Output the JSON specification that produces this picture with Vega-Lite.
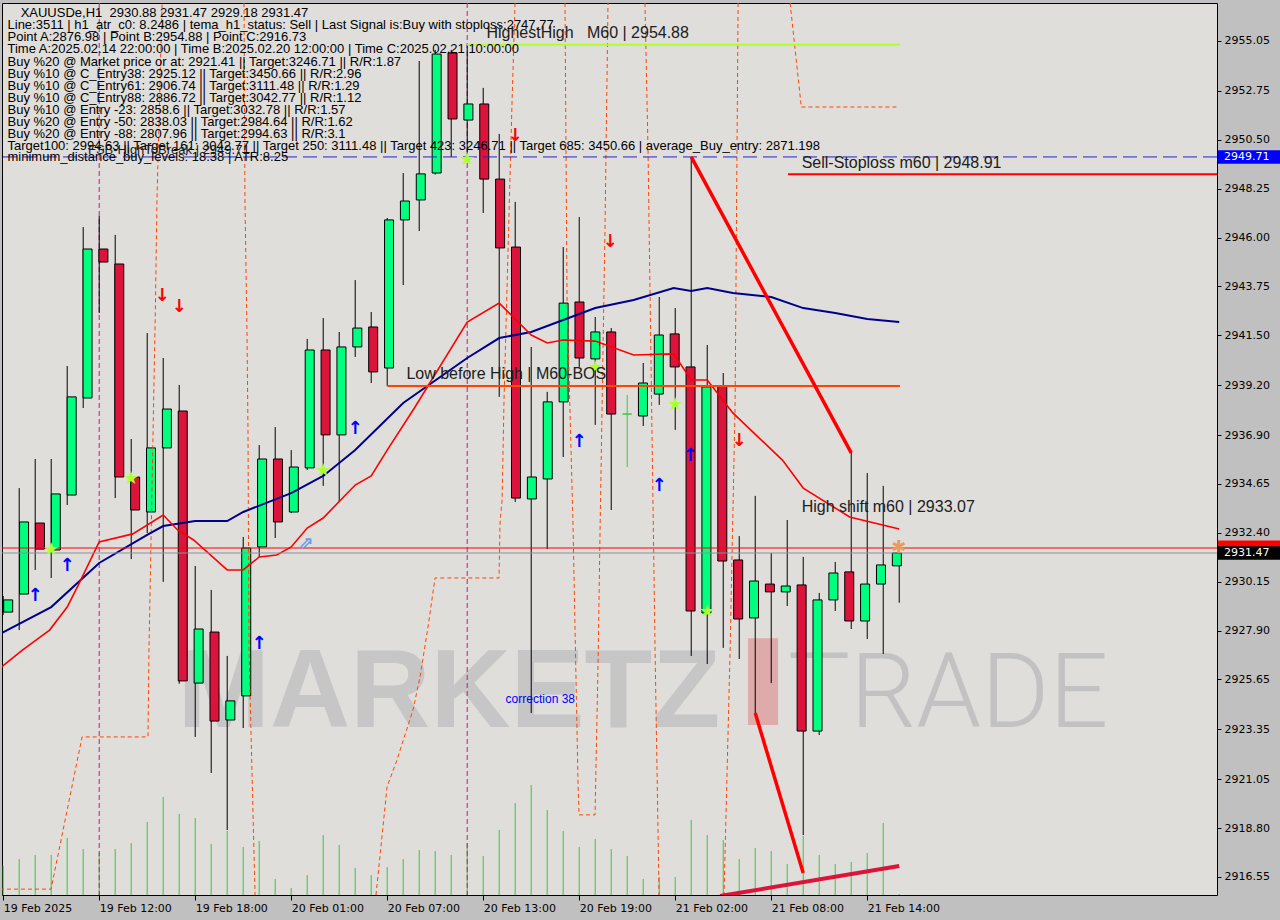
{
"$schema":"https://vega.github.io/schema/vega-lite/v6.json",
"width":1215,"height":892,
"autosize":{"type":"none"},
"padding":{"left":2,"top":3,"right":63,"bottom":25},
"background":"#c0c0c0",
"config":{"view":{"fill":"#dfdedb","stroke":"#000000","strokeWidth":1},"text":{"font":"Liberation Sans"}},
"datasets":{
"cdl":[
{"i":0,"o":2928.75,"h":2929.49,"l":2928.62,"c":2929.31,"d":"up"},
{"i":1,"o":2929.58,"h":2934.46,"l":2927.92,"c":2932.90,"d":"up"},
{"i":2,"o":2932.85,"h":2935.80,"l":2930.69,"c":2931.65,"d":"down"},
{"i":3,"o":2931.61,"h":2935.80,"l":2930.32,"c":2934.19,"d":"up"},
{"i":4,"o":2934.14,"h":2940.08,"l":2933.68,"c":2938.66,"d":"up"},
{"i":5,"o":2938.61,"h":2946.48,"l":2938.15,"c":2945.47,"d":"up"},
{"i":6,"o":2945.47,"h":2946.99,"l":2942.52,"c":2944.87,"d":"down"},
{"i":7,"o":2944.78,"h":2946.12,"l":2934.00,"c":2934.97,"d":"down"},
{"i":8,"o":2934.97,"h":2936.72,"l":2931.19,"c":2933.45,"d":"down"},
{"i":9,"o":2933.36,"h":2941.60,"l":2932.39,"c":2936.31,"d":"up"},
{"i":10,"o":2936.31,"h":2940.45,"l":2930.14,"c":2938.10,"d":"up"},
{"i":11,"o":2938.01,"h":2939.21,"l":2925.45,"c":2925.58,"d":"down"},
{"i":12,"o":2925.48,"h":2930.87,"l":2923.00,"c":2927.97,"d":"up"},
{"i":13,"o":2927.83,"h":2929.77,"l":2921.34,"c":2923.73,"d":"down"},
{"i":14,"o":2923.78,"h":2926.73,"l":2918.71,"c":2924.66,"d":"up"},
{"i":15,"o":2924.89,"h":2932.21,"l":2923.41,"c":2931.70,"d":"up"},
{"i":16,"o":2931.75,"h":2936.44,"l":2931.29,"c":2935.80,"d":"up"},
{"i":17,"o":2935.80,"h":2937.27,"l":2932.16,"c":2932.90,"d":"down"},
{"i":18,"o":2933.36,"h":2936.21,"l":2933.31,"c":2935.43,"d":"up"},
{"i":19,"o":2935.39,"h":2941.33,"l":2935.29,"c":2940.82,"d":"up"},
{"i":20,"o":2940.82,"h":2942.29,"l":2934.56,"c":2936.91,"d":"down"},
{"i":21,"o":2936.91,"h":2941.65,"l":2933.82,"c":2940.96,"d":"up"},
{"i":22,"o":2940.96,"h":2944.04,"l":2940.50,"c":2941.83,"d":"up"},
{"i":23,"o":2941.88,"h":2942.57,"l":2939.30,"c":2939.81,"d":"down"},
{"i":24,"o":2939.99,"h":2946.90,"l":2939.16,"c":2946.81,"d":"up"},
{"i":25,"o":2946.81,"h":2948.97,"l":2943.81,"c":2947.68,"d":"up"},
{"i":26,"o":2947.73,"h":2954.13,"l":2946.30,"c":2948.93,"d":"up"},
{"i":27,"o":2948.97,"h":2954.64,"l":2948.90,"c":2954.45,"d":"up"},
{"i":28,"o":2954.50,"h":2954.64,"l":2949.71,"c":2951.46,"d":"down"},
{"i":29,"o":2951.41,"h":2954.88,"l":2949.66,"c":2952.15,"d":"up"},
{"i":30,"o":2952.15,"h":2952.89,"l":2947.13,"c":2948.69,"d":"down"},
{"i":31,"o":2948.69,"h":2950.77,"l":2938.66,"c":2945.52,"d":"down"},
{"i":32,"o":2945.56,"h":2947.64,"l":2933.82,"c":2934.00,"d":"down"},
{"i":33,"o":2933.96,"h":2940.96,"l":2924.10,"c":2934.97,"d":"up"},
{"i":34,"o":2934.88,"h":2938.89,"l":2931.65,"c":2938.43,"d":"up"},
{"i":35,"o":2938.43,"h":2945.56,"l":2935.89,"c":2942.98,"d":"up"},
{"i":36,"o":2943.03,"h":2946.94,"l":2940.04,"c":2940.45,"d":"down"},
{"i":37,"o":2940.41,"h":2942.34,"l":2937.37,"c":2941.65,"d":"up"},
{"i":38,"o":2941.65,"h":2941.83,"l":2933.45,"c":2937.87,"d":"down"},
{"i":39,"o":2937.87,"h":2938.75,"l":2935.43,"c":2937.87,"d":"doji"},
{"i":40,"o":2937.78,"h":2940.22,"l":2937.32,"c":2939.30,"d":"up"},
{"i":41,"o":2938.79,"h":2943.26,"l":2938.29,"c":2941.51,"d":"up"},
{"i":42,"o":2941.56,"h":2942.75,"l":2937.14,"c":2940.04,"d":"down"},
{"i":43,"o":2940.04,"h":2949.71,"l":2926.73,"c":2928.80,"d":"down"},
{"i":44,"o":2928.71,"h":2941.05,"l":2926.36,"c":2939.12,"d":"up"},
{"i":45,"o":2939.16,"h":2939.76,"l":2927.10,"c":2931.10,"d":"down"},
{"i":46,"o":2931.15,"h":2932.25,"l":2926.59,"c":2928.43,"d":"down"},
{"i":47,"o":2928.48,"h":2934.10,"l":2924.10,"c":2930.18,"d":"up"},
{"i":48,"o":2930.04,"h":2931.47,"l":2925.48,"c":2929.68,"d":"down"},
{"i":49,"o":2929.68,"h":2932.99,"l":2929.03,"c":2929.95,"d":"up"},
{"i":50,"o":2930.00,"h":2931.29,"l":2918.48,"c":2923.27,"d":"down"},
{"i":51,"o":2923.27,"h":2929.63,"l":2923.09,"c":2929.31,"d":"up"},
{"i":52,"o":2929.31,"h":2931.06,"l":2928.80,"c":2930.55,"d":"up"},
{"i":53,"o":2930.60,"h":2936.12,"l":2927.97,"c":2928.34,"d":"down"},
{"i":54,"o":2928.34,"h":2935.15,"l":2927.51,"c":2930.04,"d":"up"},
{"i":55,"o":2930.04,"h":2934.56,"l":2926.82,"c":2930.92,"d":"up"},
{"i":56,"o":2930.88,"h":2931.47,"l":2929.18,"c":2931.47,"d":"up"}
],
"vol":[
{"i":0,"v":290},{"i":1,"v":360},{"i":2,"v":400},{"i":3,"v":400},{"i":4,"v":570},{"i":5,"v":460},{"i":6,"v":420},{"i":7,"v":460},{"i":8,"v":520},{"i":9,"v":730},
{"i":10,"v":980},{"i":11,"v":810},{"i":12,"v":770},{"i":13,"v":510},{"i":14,"v":640},{"i":15,"v":480},{"i":16,"v":540},{"i":17,"v":160},{"i":18,"v":70},{"i":19,"v":200},
{"i":20,"v":600},{"i":21,"v":500},{"i":22,"v":270},{"i":23,"v":200},{"i":24,"v":280},{"i":25,"v":360},{"i":26,"v":450},{"i":27,"v":440},{"i":28,"v":400},{"i":29,"v":520},
{"i":30,"v":390},{"i":31,"v":650},{"i":32,"v":920},{"i":33,"v":1100},{"i":34,"v":850},{"i":35,"v":640},{"i":36,"v":480},{"i":37,"v":560},{"i":38,"v":460},{"i":39,"v":390},
{"i":40,"v":160},{"i":41,"v":180},{"i":42,"v":180},{"i":43,"v":750},{"i":44,"v":600},{"i":45,"v":550},{"i":46,"v":360},{"i":47,"v":470},{"i":48,"v":440},{"i":49,"v":310},
{"i":50,"v":590},{"i":51,"v":400},{"i":52,"v":310},{"i":53,"v":330},{"i":54,"v":420},{"i":55,"v":720},{"i":56,"v":10}
],
"navy":[
{"i":-0.2,"p":2927.74},{"i":3,"p":2928.98},{"i":6,"p":2931.01},{"i":9,"p":2932.30},{"i":10,"p":2932.71},{"i":12,"p":2932.94},{"i":14,"p":2932.94},{"i":15,"p":2933.36},{"i":18,"p":2934.23},{"i":20,"p":2935.02},{"i":22,"p":2936.21},{"i":25,"p":2938.38},{"i":29,"p":2940.45},{"i":31,"p":2941.37},{"i":33,"p":2941.65},{"i":35,"p":2942.20},{"i":37,"p":2942.75},{"i":39.4,"p":2943.12},{"i":41.9,"p":2943.67},{"i":43,"p":2943.54},{"i":44,"p":2943.67},{"i":45.6,"p":2943.44},{"i":48,"p":2943.26},{"i":50,"p":2942.75},{"i":52,"p":2942.52},{"i":54,"p":2942.25},{"i":56,"p":2942.11}
],
"rma":[
{"i":-0.2,"p":2926.17},{"i":1.2,"p":2927.00},{"i":2.9,"p":2927.92},{"i":4,"p":2928.98},{"i":4.7,"p":2930.00},{"i":6,"p":2931.98},{"i":8.1,"p":2932.35},{"i":10,"p":2933.22},{"i":10.9,"p":2932.53},{"i":11.9,"p":2932.07},{"i":14,"p":2930.69},{"i":15,"p":2930.69},{"i":16,"p":2931.29},{"i":17.1,"p":2931.38},{"i":18,"p":2931.75},{"i":19,"p":2932.62},{"i":20,"p":2933.08},{"i":22,"p":2934.60},{"i":23,"p":2935.02},{"i":24,"p":2936.21},{"i":25.7,"p":2938.15},{"i":29,"p":2942.11},{"i":31,"p":2942.98},{"i":33,"p":2941.51},{"i":34,"p":2941.14},{"i":35,"p":2941.28},{"i":37,"p":2941.23},{"i":39.4,"p":2940.59},{"i":41.9,"p":2940.64},{"i":43,"p":2939.44},{"i":44,"p":2939.44},{"i":45.6,"p":2937.92},{"i":48.7,"p":2935.75},{"i":50,"p":2934.46},{"i":52.9,"p":2933.13},{"i":56,"p":2932.58}
],
"od":[
{"g":"A","k":1,"i":-0.2,"p":2915.99},{"g":"A","k":2,"i":2.99,"p":2915.99},{"g":"A","k":3,"i":4.93,"p":2923.00},{"g":"A","k":4,"i":9.05,"p":2923.00},{"g":"A","k":5,"i":9.11,"p":2927.00},{"g":"A","k":6,"i":9.51,"p":2942.66},{"g":"A","k":7,"i":9.61,"p":2947.73},{"g":"A","k":8,"i":9.93,"p":2956.80},
{"g":"B","k":1,"i":15.05,"p":2956.80},{"g":"B","k":2,"i":15.11,"p":2947.73},{"g":"B","k":3,"i":15.24,"p":2941.42},{"g":"B","k":4,"i":15.3,"p":2936.99},{"g":"B","k":5,"i":15.36,"p":2927.00},{"g":"B","k":6,"i":15.74,"p":2915.72},
{"g":"C","k":1,"i":23.3,"p":2915.72},{"g":"C","k":2,"i":23.99,"p":2920.70},{"g":"C","k":3,"i":24.61,"p":2921.94},{"g":"C","k":4,"i":25.61,"p":2924.24},{"g":"C","k":5,"i":26.05,"p":2925.76},{"g":"C","k":6,"i":26.55,"p":2928.06},{"g":"C","k":7,"i":26.99,"p":2930.32},{"g":"C","k":8,"i":30.99,"p":2930.32},{"g":"C","k":9,"i":31.05,"p":2932.85},{"g":"C","k":10,"i":31.18,"p":2933.91},{"g":"C","k":11,"i":31.24,"p":2936.21},{"g":"C","k":12,"i":31.3,"p":2938.52},{"g":"C","k":13,"i":31.8,"p":2952.20},{"g":"C","k":14,"i":31.99,"p":2956.80},
{"g":"D","k":1,"i":35.11,"p":2956.80},{"g":"D","k":2,"i":35.24,"p":2943.12},{"g":"D","k":3,"i":35.61,"p":2932.85},{"g":"D","k":4,"i":35.93,"p":2920.70},{"g":"D","k":5,"i":35.99,"p":2919.41},{"g":"D","k":6,"i":36.99,"p":2919.41},{"g":"D","k":7,"i":37.18,"p":2926.54},{"g":"D","k":8,"i":37.3,"p":2932.39},{"g":"D","k":9,"i":37.61,"p":2946.35},{"g":"D","k":10,"i":37.8,"p":2956.80},
{"g":"E","k":1,"i":40.11,"p":2956.80},{"g":"E","k":2,"i":40.3,"p":2950.03},{"g":"E","k":3,"i":40.74,"p":2927.00},{"g":"E","k":4,"i":40.99,"p":2915.72},
{"g":"G","k":1,"i":45.93,"p":2956.80},{"g":"G","k":2,"i":45.74,"p":2938.20},{"g":"G","k":3,"i":45.43,"p":2927.00},{"g":"G","k":4,"i":45.05,"p":2915.72},
{"g":"F","k":1,"i":49.18,"p":2956.80},{"g":"F","k":2,"i":49.86,"p":2952.15},{"g":"F","k":3,"i":49.86,"p":2952.01},{"g":"F","k":4,"i":55.93,"p":2952.01}
],
"tl":[
{"g":"L1","i":43,"p":2949.71},{"g":"L1","i":53,"p":2936.08},
{"g":"L2","i":47,"p":2924.10},{"g":"L2","i":50,"p":2916.73}
],
"tl3":[{"i":44.8,"p":2915.67},{"i":56,"p":2917.06}],
"mag":[{"i":6},{"i":29}],
"arr":[
{"g":"dn","t":"↓","i":9.93,"p":2943.31},{"g":"dn","t":"↓","i":10.99,"p":2942.80},{"g":"dn","t":"↓","i":31.99,"p":2950.67},{"g":"dn","t":"↓","i":37.93,"p":2945.79},{"g":"dn","t":"↓","i":45.99,"p":2936.63},
{"g":"up","t":"↑","i":1.99,"p":2929.49},{"g":"up","t":"↑","i":3.99,"p":2930.87},{"g":"up","t":"↑","i":15.99,"p":2927.28},{"g":"up","t":"↑","i":21.99,"p":2937.18},{"g":"up","t":"↑","i":35.99,"p":2936.58},{"g":"up","t":"↑","i":40.99,"p":2934.56},{"g":"up","t":"↑","i":42.93,"p":2935.94},
{"g":"star","t":"★","i":2.99,"p":2931.61},{"g":"star","t":"★","i":7.99,"p":2934.88},{"g":"star","t":"★","i":19.99,"p":2935.25},{"g":"star","t":"★","i":28.99,"p":2949.57},{"g":"star","t":"★","i":41.99,"p":2938.29},{"g":"star","t":"★","i":43.99,"p":2928.75},{"g":"star","t":"★","i":37,"p":2939.99},
{"g":"hol","t":"⇗","i":18.93,"p":2931.89},{"g":"ast","t":"✱","i":55.98,"p":2931.70}
],
"info":[
{"i":1.09,"p":2956.35,"t":"XAUUSDe,H1\u00a0\u00a02930.88 2931.47 2929.18 2931.47"},
{"i":0.27,"p":2955.77,"t":"Line:3511 | h1_atr_c0: 8.2486 | tema_h1_status: Sell | Last Signal is:Buy with stoploss:2747.77"},
{"i":0.27,"p":2955.22,"t":"Point A:2876.98 | Point B:2954.88 | Point C:2916.73"},
{"i":0.27,"p":2954.67,"t":"Time A:2025.02.14 22:00:00 | Time B:2025.02.20 12:00:00 | Time C:2025.02.21 10:00:00"},
{"i":0.27,"p":2954.10,"t":"Buy %20 @ Market price or at: 2921.41 || Target:3246.71 || R/R:1.87"},
{"i":0.27,"p":2953.54,"t":"Buy %10 @ C_Entry38: 2925.12 || Target:3450.66 || R/R:2.96"},
{"i":0.27,"p":2952.99,"t":"Buy %10 @ C_Entry61: 2906.74 || Target:3111.48 || R/R:1.29"},
{"i":0.27,"p":2952.44,"t":"Buy %10 @ C_Entry88: 2886.72 || Target:3042.77 || R/R:1.12"},
{"i":0.27,"p":2951.89,"t":"Buy %10 @ Entry -23: 2858.6 || Target:3032.78 || R/R:1.57"},
{"i":0.27,"p":2951.33,"t":"Buy %20 @ Entry -50: 2838.03 || Target:2984.64 || R/R:1.62"},
{"i":0.27,"p":2950.78,"t":"Buy %20 @ Entry -88: 2807.96 || Target:2994.63 || R/R:3.1"},
{"i":0.27,"p":2950.23,"t":"Target100: 2994.63 || Target 161: 3042.77 || Target 250: 3111.48 || Target 423: 3246.71 || Target 685: 3450.66 | average_Buy_entry: 2871.198"},
{"i":0.27,"p":2949.69,"t":"minimum_distance_buy_levels: 18.38 | ATR:8.25"}
],
"lbl":[
{"i":30.2,"p":2955.42,"t":"HighestHigh\u00a0\u00a0\u00a0M60 | 2954.88"},
{"i":49.9,"p":2949.43,"t":"Sell-Stoploss m60 | 2948.91"},
{"i":25.2,"p":2939.71,"t":"Low before High | M60-BOS"},
{"i":49.9,"p":2933.59,"t":"High shift m60 | 2933.07"}
]
},
"layer":[
{
"data":{"name":"vol"},
"mark":{"type":"rule","color":"#32CD32","strokeWidth":1},
"encoding":{
"x":{"field":"i","type":"quantitative","scale":{"domain":[-0.075,75.86],"nice":false,"zero":false},
"axis":{"orient":"bottom","values":[0,6,12,18,24,30,36,42,48,54],"labelExpr":"['19 Feb 2025','19 Feb 12:00','19 Feb 18:00','20 Feb 01:00','20 Feb 07:00','20 Feb 13:00','20 Feb 19:00','21 Feb 02:00','21 Feb 08:00','21 Feb 14:00'][round(datum.value/6)]","labelAlign":"left","labelFont":"DejaVu Sans","labelFontSize":11,"labelColor":"#000000","tickColor":"#000000","tickSize":5,"labelPadding":2,"domain":false,"grid":false,"title":null,"labelOverlap":false,"labelFlush":false}},
"y":{"field":"v","type":"quantitative","scale":{"domain":[0,8920],"nice":false},"axis":null},
"y2":{"datum":0}
}
},
{
"data":{"values":[{"i":10.9,"p":2923.46,"t":"MARKETZ"}]},
"mark":{"type":"text","align":"left","baseline":"alphabetic","font":"Liberation Sans","fontWeight":"bold","fontSize":111,"color":"#c6c6c6"},
"encoding":{
"x":{"field":"i","type":"quantitative","scale":{"domain":[-0.075,75.86],"nice":false,"zero":false},"axis":null},
"y":{"field":"p","type":"quantitative","scale":{"domain":[2915.72,2956.80],"nice":false,"zero":false},"axis":null},
"text":{"field":"t"}
}
},
{
"data":{"values":[{"i":49.05,"p":2923.46,"t":"TRADE"}]},
"mark":{"type":"text","align":"left","baseline":"alphabetic","font":"Roboto","fontWeight":300,"fontSize":104,"color":"#c2c2c2"},
"encoding":{
"x":{"field":"i","type":"quantitative","scale":{"domain":[-0.075,75.86],"nice":false,"zero":false},"axis":null},
"y":{"field":"p","type":"quantitative","scale":{"domain":[2915.72,2956.80],"nice":false,"zero":false},"axis":null},
"text":{"field":"t"}
}
},
{
"data":{"values":[{"i":46.55,"i2":48.43,"p1":2923.55,"p2":2927.55}]},
"mark":{"type":"rect","color":"#dfaaaa"},
"encoding":{
"x":{"field":"i","type":"quantitative","scale":{"domain":[-0.075,75.86],"nice":false,"zero":false},"axis":null},
"x2":{"field":"i2"},
"y":{"field":"p1","type":"quantitative","scale":{"domain":[2915.72,2956.80],"nice":false,"zero":false},"axis":null},
"y2":{"field":"p2"}
}
},
{
"data":{"name":"mag"},
"mark":{"type":"rule","color":"#C71585","strokeWidth":1,"strokeDash":[5,3]},
"encoding":{
"x":{"field":"i","type":"quantitative","scale":{"domain":[-0.075,75.86],"nice":false,"zero":false},"axis":null}
}
},
{
"data":{"name":"cdl"},
"mark":{"type":"rule","strokeWidth":1,"clip":true},
"encoding":{
"x":{"field":"i","type":"quantitative","scale":{"domain":[-0.075,75.86],"nice":false,"zero":false},"axis":null},
"y":{"field":"l","type":"quantitative","scale":{"domain":[2915.72,2956.80],"nice":false,"zero":false},"axis":null},
"y2":{"field":"h"},
"stroke":{"field":"d","type":"nominal","scale":{"domain":["up","down","doji"],"range":["#000000","#000000","#32CD32"]},"legend":null}
}
},
{
"data":{"name":"cdl"},
"mark":{"type":"bar","width":9,"strokeWidth":1,"clip":true},
"encoding":{
"x":{"field":"i","type":"quantitative","scale":{"domain":[-0.075,75.86],"nice":false,"zero":false},"axis":null},
"y":{"field":"o","type":"quantitative","scale":{"domain":[2915.72,2956.80],"nice":false,"zero":false},
"axis":{"orient":"right","values":[2916.55,2918.8,2921.05,2923.35,2925.65,2927.9,2930.15,2932.4,2934.65,2936.9,2939.2,2941.5,2943.75,2946.0,2948.25,2950.5,2952.75,2955.05],"format":".2f","labelFont":"DejaVu Sans","labelFontSize":11,"labelColor":"#000000","tickColor":"#000000","tickSize":4,"labelPadding":3,"domain":false,"grid":false,"title":null,"labelOverlap":false,"labelFlush":false}},
"y2":{"field":"c"},
"fill":{"field":"d","type":"nominal","scale":{"domain":["up","down","doji"],"range":["#00FF7F","#DC143C","#00FF7F"]},"legend":null},
"stroke":{"field":"d","type":"nominal","scale":{"domain":["up","down","doji"],"range":["#000000","#000000","#32CD32"]},"legend":null}
}
},
{
"data":{"name":"od"},
"mark":{"type":"line","color":"#FF4500","strokeWidth":1,"strokeDash":[4,3],"clip":true},
"encoding":{
"x":{"field":"i","type":"quantitative","scale":{"domain":[-0.075,75.86],"nice":false,"zero":false},"axis":null},
"y":{"field":"p","type":"quantitative","scale":{"domain":[2915.72,2956.80],"nice":false,"zero":false},"axis":null},
"detail":{"field":"g"},
"order":{"field":"k"}
}
},
{
"data":{"name":"navy"},
"mark":{"type":"line","color":"#00008B","strokeWidth":2,"clip":true},
"encoding":{
"x":{"field":"i","type":"quantitative","scale":{"domain":[-0.075,75.86],"nice":false,"zero":false},"axis":null},
"y":{"field":"p","type":"quantitative","scale":{"domain":[2915.72,2956.80],"nice":false,"zero":false},"axis":null}
}
},
{
"data":{"name":"rma"},
"mark":{"type":"line","color":"#FF0000","strokeWidth":1.6,"clip":true},
"encoding":{
"x":{"field":"i","type":"quantitative","scale":{"domain":[-0.075,75.86],"nice":false,"zero":false},"axis":null},
"y":{"field":"p","type":"quantitative","scale":{"domain":[2915.72,2956.80],"nice":false,"zero":false},"axis":null}
}
},
{
"data":{"values":[{"p":2949.71}]},
"mark":{"type":"rule","color":"#2222CC","strokeWidth":1,"strokeDash":[14,6]},
"encoding":{"y":{"field":"p","type":"quantitative","scale":{"domain":[2915.72,2956.80],"nice":false,"zero":false},"axis":null}}
},
{
"data":{"values":[{"p":2931.70}]},
"mark":{"type":"rule","color":"#FF0000","strokeWidth":1},
"encoding":{"y":{"field":"p","type":"quantitative","scale":{"domain":[2915.72,2956.80],"nice":false,"zero":false},"axis":null}}
},
{
"data":{"values":[{"p":2931.47}]},
"mark":{"type":"rule","color":"#8a9298","strokeWidth":1},
"encoding":{"y":{"field":"p","type":"quantitative","scale":{"domain":[2915.72,2956.80],"nice":false,"zero":false},"axis":null}}
},
{
"data":{"values":[{"i":28.99,"i2":56.05,"p":2954.88}]},
"mark":{"type":"rule","color":"#ADFF2F","strokeWidth":2},
"encoding":{
"x":{"field":"i","type":"quantitative","scale":{"domain":[-0.075,75.86],"nice":false,"zero":false},"axis":null},
"x2":{"field":"i2"},
"y":{"field":"p","type":"quantitative","scale":{"domain":[2915.72,2956.80],"nice":false,"zero":false},"axis":null}
}
},
{
"data":{"values":[{"i":49.05,"i2":75.86,"p":2948.91}]},
"mark":{"type":"rule","color":"#FF0000","strokeWidth":2},
"encoding":{
"x":{"field":"i","type":"quantitative","scale":{"domain":[-0.075,75.86],"nice":false,"zero":false},"axis":null},
"x2":{"field":"i2"},
"y":{"field":"p","type":"quantitative","scale":{"domain":[2915.72,2956.80],"nice":false,"zero":false},"axis":null}
}
},
{
"data":{"values":[{"i":24,"i2":56.05,"p":2939.16}]},
"mark":{"type":"rule","color":"#FF4500","strokeWidth":2},
"encoding":{
"x":{"field":"i","type":"quantitative","scale":{"domain":[-0.075,75.86],"nice":false,"zero":false},"axis":null},
"x2":{"field":"i2"},
"y":{"field":"p","type":"quantitative","scale":{"domain":[2915.72,2956.80],"nice":false,"zero":false},"axis":null}
}
},
{
"data":{"name":"tl"},
"mark":{"type":"line","color":"#FF0000","strokeWidth":3.5,"clip":true},
"encoding":{
"x":{"field":"i","type":"quantitative","scale":{"domain":[-0.075,75.86],"nice":false,"zero":false},"axis":null},
"y":{"field":"p","type":"quantitative","scale":{"domain":[2915.72,2956.80],"nice":false,"zero":false},"axis":null},
"detail":{"field":"g"}
}
},
{
"data":{"name":"tl3"},
"mark":{"type":"line","color":"#DC143C","strokeWidth":4,"clip":true},
"encoding":{
"x":{"field":"i","type":"quantitative","scale":{"domain":[-0.075,75.86],"nice":false,"zero":false},"axis":null},
"y":{"field":"p","type":"quantitative","scale":{"domain":[2915.72,2956.80],"nice":false,"zero":false},"axis":null}
}
},
{
"data":{"name":"arr"},
"mark":{"type":"text","align":"center","baseline":"middle","font":"DejaVu Sans","fontWeight":"bold","fontSize":18},
"encoding":{
"x":{"field":"i","type":"quantitative","scale":{"domain":[-0.075,75.86],"nice":false,"zero":false},"axis":null},
"y":{"field":"p","type":"quantitative","scale":{"domain":[2915.72,2956.80],"nice":false,"zero":false},"axis":null},
"text":{"field":"t"},
"color":{"field":"g","type":"nominal","scale":{"domain":["up","dn","star","hol","ast"],"range":["#0000FF","#FF0000","#ADFF2F","#6A9AE8","#E89A60"]},"legend":null}
}
},
{
"data":{"name":"info"},
"mark":{"type":"text","align":"left","baseline":"middle","font":"Liberation Sans","fontSize":13,"color":"#000000"},
"encoding":{
"x":{"field":"i","type":"quantitative","scale":{"domain":[-0.075,75.86],"nice":false,"zero":false},"axis":null},
"y":{"field":"p","type":"quantitative","scale":{"domain":[2915.72,2956.80],"nice":false,"zero":false},"axis":null},
"text":{"field":"t"}
}
},
{
"data":{"values":[{"i":5.3,"p":2950.03,"t":"FSB-HighToBreak | 2949.71"}]},
"mark":{"type":"text","align":"left","baseline":"middle","font":"Liberation Sans","fontSize":13,"color":"#1a1a1a"},
"encoding":{
"x":{"field":"i","type":"quantitative","scale":{"domain":[-0.075,75.86],"nice":false,"zero":false},"axis":null},
"y":{"field":"p","type":"quantitative","scale":{"domain":[2915.72,2956.80],"nice":false,"zero":false},"axis":null},
"text":{"field":"t"}
}
},
{
"data":{"name":"lbl"},
"mark":{"type":"text","align":"left","baseline":"middle","font":"Liberation Sans","fontSize":16,"color":"#202020"},
"encoding":{
"x":{"field":"i","type":"quantitative","scale":{"domain":[-0.075,75.86],"nice":false,"zero":false},"axis":null},
"y":{"field":"p","type":"quantitative","scale":{"domain":[2915.72,2956.80],"nice":false,"zero":false},"axis":null},
"text":{"field":"t"}
}
},
{
"data":{"values":[{"i":31.4,"p":2924.75,"t":"correction 38"}]},
"mark":{"type":"text","align":"left","baseline":"middle","font":"Liberation Sans","fontSize":12,"color":"#0000FF"},
"encoding":{
"x":{"field":"i","type":"quantitative","scale":{"domain":[-0.075,75.86],"nice":false,"zero":false},"axis":null},
"y":{"field":"p","type":"quantitative","scale":{"domain":[2915.72,2956.80],"nice":false,"zero":false},"axis":null},
"text":{"field":"t"}
}
},
{
"data":{"values":[{"i":75.92,"i2":79.85,"p1":2949.40,"p2":2950.02}]},
"mark":{"type":"rect","color":"#0000FF"},
"encoding":{
"x":{"field":"i","type":"quantitative","scale":{"domain":[-0.075,75.86],"nice":false,"zero":false},"axis":null},
"x2":{"field":"i2"},
"y":{"field":"p1","type":"quantitative","scale":{"domain":[2915.72,2956.80],"nice":false,"zero":false},"axis":null},
"y2":{"field":"p2"}
}
},
{
"data":{"values":[{"i":75.92,"i2":79.85,"p1":2931.70,"p2":2932.05}]},
"mark":{"type":"rect","color":"#FF0000"},
"encoding":{
"x":{"field":"i","type":"quantitative","scale":{"domain":[-0.075,75.86],"nice":false,"zero":false},"axis":null},
"x2":{"field":"i2"},
"y":{"field":"p1","type":"quantitative","scale":{"domain":[2915.72,2956.80],"nice":false,"zero":false},"axis":null},
"y2":{"field":"p2"}
}
},
{
"data":{"values":[{"i":75.92,"i2":79.85,"p1":2931.16,"p2":2931.78}]},
"mark":{"type":"rect","color":"#000000"},
"encoding":{
"x":{"field":"i","type":"quantitative","scale":{"domain":[-0.075,75.86],"nice":false,"zero":false},"axis":null},
"x2":{"field":"i2"},
"y":{"field":"p1","type":"quantitative","scale":{"domain":[2915.72,2956.80],"nice":false,"zero":false},"axis":null},
"y2":{"field":"p2"}
}
},
{
"data":{"values":[{"i":75.92,"p":2949.71,"t":"2949.71"},{"i":75.92,"p":2931.47,"t":"2931.47"}]},
"mark":{"type":"text","align":"left","baseline":"middle","font":"DejaVu Sans","fontSize":11,"color":"#ffffff","dx":6},
"encoding":{
"x":{"field":"i","type":"quantitative","scale":{"domain":[-0.075,75.86],"nice":false,"zero":false},"axis":null},
"y":{"field":"p","type":"quantitative","scale":{"domain":[2915.72,2956.80],"nice":false,"zero":false},"axis":null},
"text":{"field":"t"}
}
}
],
"resolve":{"scale":{"y":"independent","x":"independent"}}
}
